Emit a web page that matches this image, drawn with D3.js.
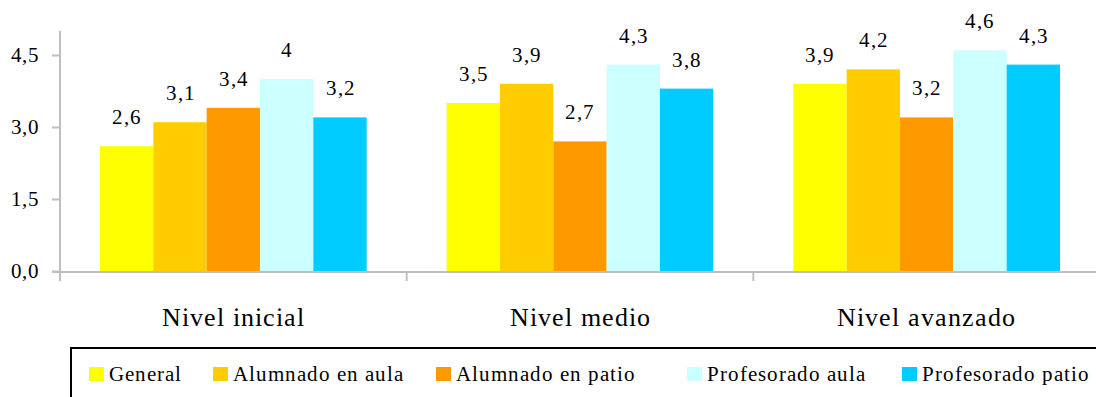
<!DOCTYPE html>
<html><head><meta charset="utf-8">
<script src="https://cdn.jsdelivr.net/npm/d3@7"></script>
<style>
@font-face { font-family: "ChartSerif"; src: local("Liberation Serif"), local("LiberationSerif"), local("Liberation Serif Regular"), local("LiberationSerif-Regular"); }
body { margin: 0; background: #fff; }
</style>
</head><body>
<script>
const categories = ["Nivel inicial", "Nivel medio", "Nivel avanzado"];
const seriesNames = ["General", "Alumnado en aula", "Alumnado en patio", "Profesorado aula", "Profesorado patio"];
const general = [2.6, 3.5, 3.9];
const alumnadoAula = [3.1, 3.9, 4.2];
const alumnadoPatio = [3.4, 2.7, 3.2];
const profesoradoAula = [4.0, 4.3, 4.6];
const profesoradoPatio = [3.2, 3.8, 4.3];
const yTicks = [0, 1.5, 3.0, 4.5];
const colors = ["#FFFF00", "#FFCC00", "#FF9900", "#CCFFFF", "#00CCFF"];

const FONT = "ChartSerif, 'Liberation Serif'";
const seriesValues = [general, alumnadoAula, alumnadoPatio, profesoradoAula, profesoradoPatio];
const W = 1096, H = 397;
const svg = d3.select("body").append("svg").attr("width", W).attr("height", H).style("display", "block").style("font-family", FONT);

const y = d3.scaleLinear().domain([0, 5]).range([271, 31]);
const x0 = d3.scaleBand().domain(categories).range([60, 1100]).paddingInner(0).paddingOuter(0);
const x1 = d3.scaleBand().domain(seriesNames).range([0, x0.bandwidth()]).paddingInner(0).paddingOuter(0.75);

const fmt = v => Number.isInteger(v) ? String(v) : v.toFixed(1).replace(".", ",");

// bars
categories.forEach((c, ci) => {
  const g = svg.append("g").attr("transform", `translate(${x0(c)},0)`);
  seriesNames.forEach((s, si) => {
    const v = seriesValues[si][ci];
    g.append("rect").attr("x", x1(s)).attr("y", y(v)).attr("width", x1.bandwidth()).attr("height", y(0) - y(v)).attr("fill", colors[si]);
    g.append("text").attr("x", x1(s) + x1.bandwidth() / 2 + 0.5).attr("y", y(v) - 22).attr("text-anchor", "middle")
      .style("font-family", FONT).style("font-size", "21px").style("letter-spacing", "1px").text(fmt(v));
  });
});

// y axis
const yAxis = d3.axisLeft(y).tickValues(yTicks).tickSize(8).tickPadding(13).tickFormat(v => v.toFixed(1).replace(".", ","));
const ya = svg.append("g").attr("transform", "translate(60,0)").call(yAxis);
ya.select(".domain").attr("d", `M0,${y(5)}V${y(0)}`).attr("stroke", "#BFBFBF").attr("stroke-width", 2);
ya.selectAll(".tick line").attr("stroke", "#BFBFBF").attr("stroke-width", 2);
ya.selectAll(".tick text").style("font-family", FONT).style("font-size", "21px").style("letter-spacing", "0.5px").attr("fill", "#000");

// x axis
const xa = svg.append("g").attr("transform", `translate(0,${y(0) + 1})`);
xa.append("line").attr("x1", 52).attr("x2", 1100).attr("y1", 0).attr("y2", 0).attr("stroke", "#BFBFBF").attr("stroke-width", 2);
const bounds = categories.map(c => x0(c)).concat([x0(categories[categories.length - 1]) + x0.bandwidth()]);
xa.selectAll("line.tk").data(bounds).join("line").attr("class", "tk").attr("x1", d => d).attr("x2", d => d).attr("y1", 0).attr("y2", 9).attr("stroke", "#BFBFBF").attr("stroke-width", 2);
xa.selectAll("text.cat").data(categories).join("text").attr("class", "cat").attr("x", d => x0(d) + x0.bandwidth() / 2).attr("y", 54).attr("text-anchor", "middle")
  .style("font-family", FONT).style("font-size", "26px").style("letter-spacing", "1px").text(d => d);

// legend
const lg = svg.append("g");
lg.append("rect").attr("x", 71).attr("y", 348).attr("width", 1100).attr("height", 80).attr("fill", "none").attr("stroke", "#000").attr("stroke-width", 2);
const legX = [89, 213, 436, 687, 902];
seriesNames.forEach((s, i) => {
  lg.append("rect").attr("x", legX[i]).attr("y", 367).attr("width", 15).attr("height", 14).attr("fill", colors[i]);
  lg.append("text").attr("x", legX[i] + 20).attr("y", 381).style("font-family", FONT).style("font-size", "21px").style("letter-spacing", "1px").text(s);
});
</script>
</body></html>
